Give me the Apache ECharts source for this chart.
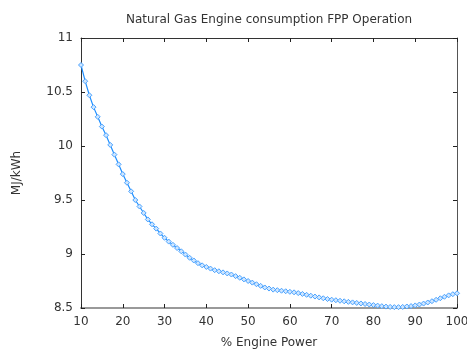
<!DOCTYPE html>
<html>
<head>
<meta charset="utf-8">
<style>
  html, body { margin: 0; padding: 0; background: #fff; }
  #chart { width: 467px; height: 350px; }
</style>
<script src="https://cdn.jsdelivr.net/npm/echarts@6/dist/echarts.min.js"></script>
</head>
<body>
<div id="chart"></div>
<script>
// Engine load in percent of rated power
const enginePower = [
  10, 11, 12, 13, 14, 15, 16, 17, 18, 19,
  20, 21, 22, 23, 24, 25, 26, 27, 28, 29,
  30, 31, 32, 33, 34, 35, 36, 37, 38, 39,
  40, 41, 42, 43, 44, 45, 46, 47, 48, 49,
  50, 51, 52, 53, 54, 55, 56, 57, 58, 59,
  60, 61, 62, 63, 64, 65, 66, 67, 68, 69,
  70, 71, 72, 73, 74, 75, 76, 77, 78, 79,
  80, 81, 82, 83, 84, 85, 86, 87, 88, 89,
  90, 91, 92, 93, 94, 95, 96, 97, 98, 99, 100
];

// Specific energy consumption, MJ/kWh
const consumption = [
  10.75, 10.60, 10.47, 10.36, 10.27, 10.18, 10.10, 10.01, 9.92, 9.83,
  9.74, 9.66, 9.58, 9.50, 9.44, 9.38, 9.32, 9.275, 9.235, 9.19,
  9.15, 9.115, 9.085, 9.055, 9.025, 8.995, 8.965, 8.94, 8.915, 8.895,
  8.88, 8.865, 8.85, 8.84, 8.83, 8.82, 8.81, 8.795, 8.78, 8.765,
  8.75, 8.735, 8.72, 8.705, 8.69, 8.68, 8.67, 8.665, 8.66, 8.655,
  8.65, 8.645, 8.638, 8.63, 8.622, 8.614, 8.606, 8.598, 8.59, 8.583,
  8.577, 8.572, 8.567, 8.562, 8.557, 8.552, 8.547, 8.542, 8.537, 8.532,
  8.527, 8.522, 8.517, 8.513, 8.51, 8.508, 8.508, 8.51, 8.514, 8.518,
  8.524, 8.532, 8.541, 8.551, 8.563, 8.576, 8.59, 8.604, 8.617, 8.628, 8.636
];

const xTicks = { min: 10, max: 100, interval: 10 };
const yTicks = { min: 8.5, max: 11, interval: 0.5 };

const textColor = '#333';
const fontFamily = '"DejaVu Sans", sans-serif';

function frameAxis(pos, range, showLabels, lineColor, lineWidth, isX) {
  return {
    type: 'value',
    position: pos,
    min: range.min,
    max: range.max,
    interval: range.interval,
    axisLine: { show: true, onZero: false, lineStyle: { color: lineColor, width: lineWidth } },
    axisTick: { show: true, inside: true, length: 4, lineStyle: { color: '#222', width: 1 } },
    axisLabel: {
      show: showLabels,
      color: textColor,
      fontFamily: fontFamily,
      fontSize: 12,
      margin: isX ? 8 : 8
    },
    splitLine: { show: false }
  };
}

const chart = echarts.init(document.getElementById('chart'), null, { renderer: 'canvas' });

const xBottom = frameAxis('bottom', xTicks, true, '#999', 2, true);
xBottom.name = '% Engine Power';
xBottom.nameLocation = 'middle';
xBottom.nameGap = 29;
xBottom.nameTextStyle = { color: textColor, fontFamily: fontFamily, fontSize: 12 };

const yLeft = frameAxis('left', yTicks, true, '#333', 1, false);
yLeft.name = 'MJ/kWh';
yLeft.nameLocation = 'middle';
yLeft.nameGap = 58;
yLeft.nameRotate = 90;
yLeft.nameTextStyle = { color: textColor, fontFamily: fontFamily, fontSize: 12 };

chart.setOption({
  backgroundColor: '#fff',
  animation: false,
  title: {
    text: 'Natural Gas Engine consumption FPP Operation',
    left: 264,
    textAlign: 'center',
    top: 9,
    textStyle: { color: textColor, fontFamily: fontFamily, fontSize: 12, fontWeight: 'normal' }
  },
  grid: { left: 81, right: 10, top: 38, bottom: 42, containLabel: false, outerBoundsMode: 'none' },
  xAxis: [
    xBottom,
    frameAxis('top', xTicks, false, '#333', 1, true)
  ],
  yAxis: [
    yLeft,
    frameAxis('right', yTicks, false, '#555', 1, false)
  ],
  series: [{
    type: 'line',
    xAxisIndex: 0,
    yAxisIndex: 0,
    data: enginePower.map((p, i) => [p, consumption[i]]),
    symbol: 'diamond',
    symbolSize: 5,
    showSymbol: true,
    lineStyle: { color: '#1f8fff', width: 1.2 },
    itemStyle: { color: '#cfe6ff', borderColor: '#4aa3ff', borderWidth: 1 }
  }]
});
</script>
</body>
</html>
